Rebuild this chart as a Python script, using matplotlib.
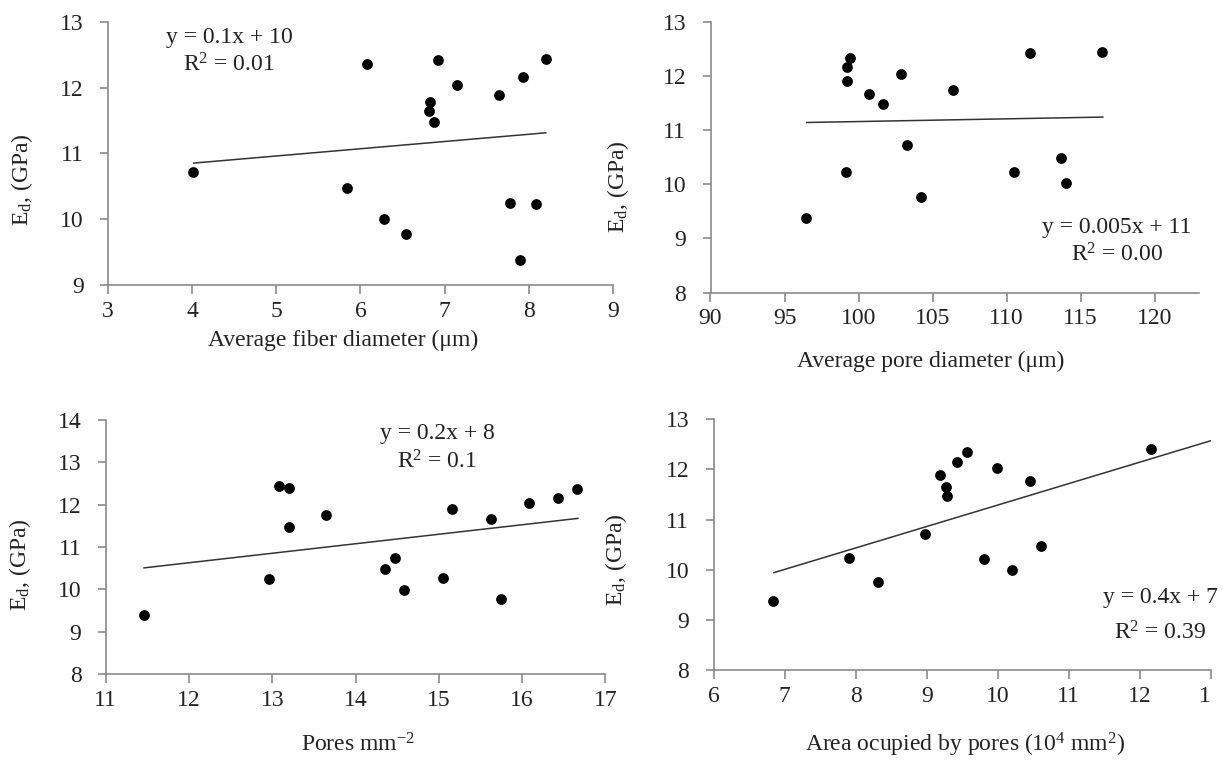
import matplotlib
matplotlib.use("Agg")
import matplotlib.pyplot as plt
import numpy as np

# ---------------- data ----------------
fiber_x = [4.01, 6.08, 6.92, 8.20, 7.93, 7.15, 7.64, 6.83, 6.81, 6.87, 5.84, 6.28, 6.54, 7.78, 8.08, 7.90]
fiber_y = [10.72, 12.35, 12.42, 12.44, 12.16, 12.04, 11.89, 11.78, 11.65, 11.47, 10.48, 10.01, 9.77, 10.25, 10.23, 9.38]

pore_x = [96.47, 99.18, 99.20, 99.20, 99.39, 100.70, 101.62, 102.85, 103.28, 104.20, 106.40, 110.47, 111.60, 113.67, 114.02, 116.43]
pore_y = [9.37, 10.23, 11.91, 12.17, 12.33, 11.66, 11.49, 12.04, 10.72, 9.77, 11.75, 10.23, 12.42, 10.49, 10.02, 12.44]

dens_x = [11.46, 12.96, 13.08, 13.20, 13.20, 13.65, 14.35, 14.47, 14.58, 15.05, 15.16, 15.63, 15.75, 16.08, 16.43, 16.66]
dens_y = [9.38, 10.23, 12.43, 12.40, 11.48, 11.76, 10.48, 10.74, 9.99, 10.26, 11.90, 11.65, 9.78, 12.04, 12.15, 12.36]

area_x = [6.84, 7.91, 8.32, 8.98, 9.19, 9.27, 9.29, 9.42, 9.57, 9.80, 9.99, 10.20, 10.46, 10.61, 12.15]
area_y = [9.37, 10.23, 9.76, 10.72, 11.88, 11.64, 11.47, 12.15, 12.34, 10.22, 12.03, 10.00, 11.77, 10.47, 12.41]

# trend lines: slope, intercept, x-range of drawn line
trend_slope = [0.11, 0.005, 0.2246, 0.428]
trend_icpt = [10.41, 10.66, 7.93, 7.01]
trend_x0 = [4.02, 96.5, 11.46, 6.85]
trend_x1 = [8.20, 116.5, 16.67, 13.0]

eq_text = ["y = 0.1x + 10", "y = 0.005x + 11", "y = 0.2x + 8", "y = 0.4x + 7"]
r2_text = [r"R$^{\mathregular{2}}$ = 0.01", r"R$^{\mathregular{2}}$ = 0.00",
           r"R$^{\mathregular{2}}$ = 0.1", r"R$^{\mathregular{2}}$ = 0.39"]

xlabels = ["Average fiber diameter (\u03bcm)",
           "Average pore diameter (\u03bcm)",
           r"Pores mm$^{\mathregular{-2}}$",
           r"Area ocupied by pores (10$^{\mathregular{4}}$ mm$^{\mathregular{2}}$)"]
ylabel = r"E$_{\mathregular{d}}$, (GPa)"

xticks = [[3, 4, 5, 6, 7, 8, 9], [90, 95, 100, 105, 110, 115, 120],
          [11, 12, 13, 14, 15, 16, 17], [6, 7, 8, 9, 10, 11, 12, 13]]
xticklabels = [["3", "4", "5", "6", "7", "8", "9"],
               ["90", "95", "100", "105", "110", "115", "120"],
               ["11", "12", "13", "14", "15", "16", "17"],
               ["6", "7", "8", "9", "10", "11", "12", "1"]]
xlims = [(3, 9), (90, 123), (11, 17), (6, 13)]
ylims = [(9, 13), (8, 13), (8, 14), (8, 13)]

# ---------------- style ----------------
plt.rcParams['font.family'] = ['Liberation Serif', 'DejaVu Serif']
plt.rcParams['mathtext.fontset'] = 'custom'
plt.rcParams['mathtext.rm'] = 'Liberation Serif'
plt.rcParams['mathtext.it'] = 'Liberation Serif:italic'
plt.rcParams['mathtext.bf'] = 'Liberation Serif:bold'

W, H = 1223, 760
fig = plt.figure(figsize=(W / 100, H / 100), dpi=100)

def frac_rect(l, r, t, b):
    return [l / W, 1 - b / H, (r - l) / W, (b - t) / H]

rects = [frac_rect(108, 613, 21.7, 285),
         frac_rect(710.5, 1199, 22, 292.5),
         frac_rect(105.7, 605.4, 420, 673.8),
         frac_rect(713.5, 1211, 419.3, 670)]

xs = [fiber_x, pore_x, dens_x, area_x]
ys = [fiber_y, pore_y, dens_y, area_y]

# text positions in pixels (center x, eq y, r2 y)
eq_pos = [(229, 37, 65), (1117, 227, 255), (437, 433, 462), (1160, 597, 633)]
xlab_pos = [(343, 340), (931, 361), (358, 745), (965, 745)]
ylab_pos = [(22, 180), (618, 187), (20, 565), (616, 560)]

FS = 17
grey = '#8a8a8a'
tc = '#222222'

for i in range(4):
    ax = fig.add_axes(rects[i])
    ax.scatter(xs[i], ys[i], s=60, color='black', zorder=3, linewidths=0)
    tx = np.array([trend_x0[i], trend_x1[i]])
    ax.plot(tx, trend_slope[i] * tx + trend_icpt[i], color='#333333', lw=1.1, zorder=2)
    ax.set_xlim(*xlims[i])
    ax.set_ylim(*ylims[i])
    ax.set_xticks(xticks[i])
    ax.set_xticklabels(xticklabels[i])
    ax.set_yticks(range(ylims[i][0], ylims[i][1] + 1))
    for s in ['top', 'right']:
        ax.spines[s].set_visible(False)
    for s in ['left', 'bottom']:
        ax.spines[s].set_color(grey)
        ax.spines[s].set_linewidth(1.2)
    ax.tick_params(axis='x', direction='out', length=6.5, width=1.2, color=grey,
                   labelsize=FS, pad=5, labelcolor=tc)
    ax.tick_params(axis='y', direction='out', length=5.5, width=1.2, color=grey,
                   labelsize=FS, pad=12, labelcolor=tc)
    ax.patch.set_alpha(0)
    cx, ey, ry = eq_pos[i]
    fig.text(cx / W, 1 - ey / H, eq_text[i], ha='center', va='center', fontsize=FS, color=tc)
    fig.text(cx / W, 1 - ry / H, r2_text[i], ha='center', va='center', fontsize=FS, color=tc)
    lx, ly = xlab_pos[i]
    fig.text(lx / W, 1 - ly / H, xlabels[i], ha='center', va='center', fontsize=FS, color=tc)
    yx, yy = ylab_pos[i]
    fig.text(yx / W, 1 - yy / H, ylabel, ha='center', va='center', rotation=90, fontsize=FS, color=tc)
    if i == 3:
        lab = ax.get_xticklabels()[-1]
        lab.set_ha('right')

fig.savefig("out.png", dpi=100)
